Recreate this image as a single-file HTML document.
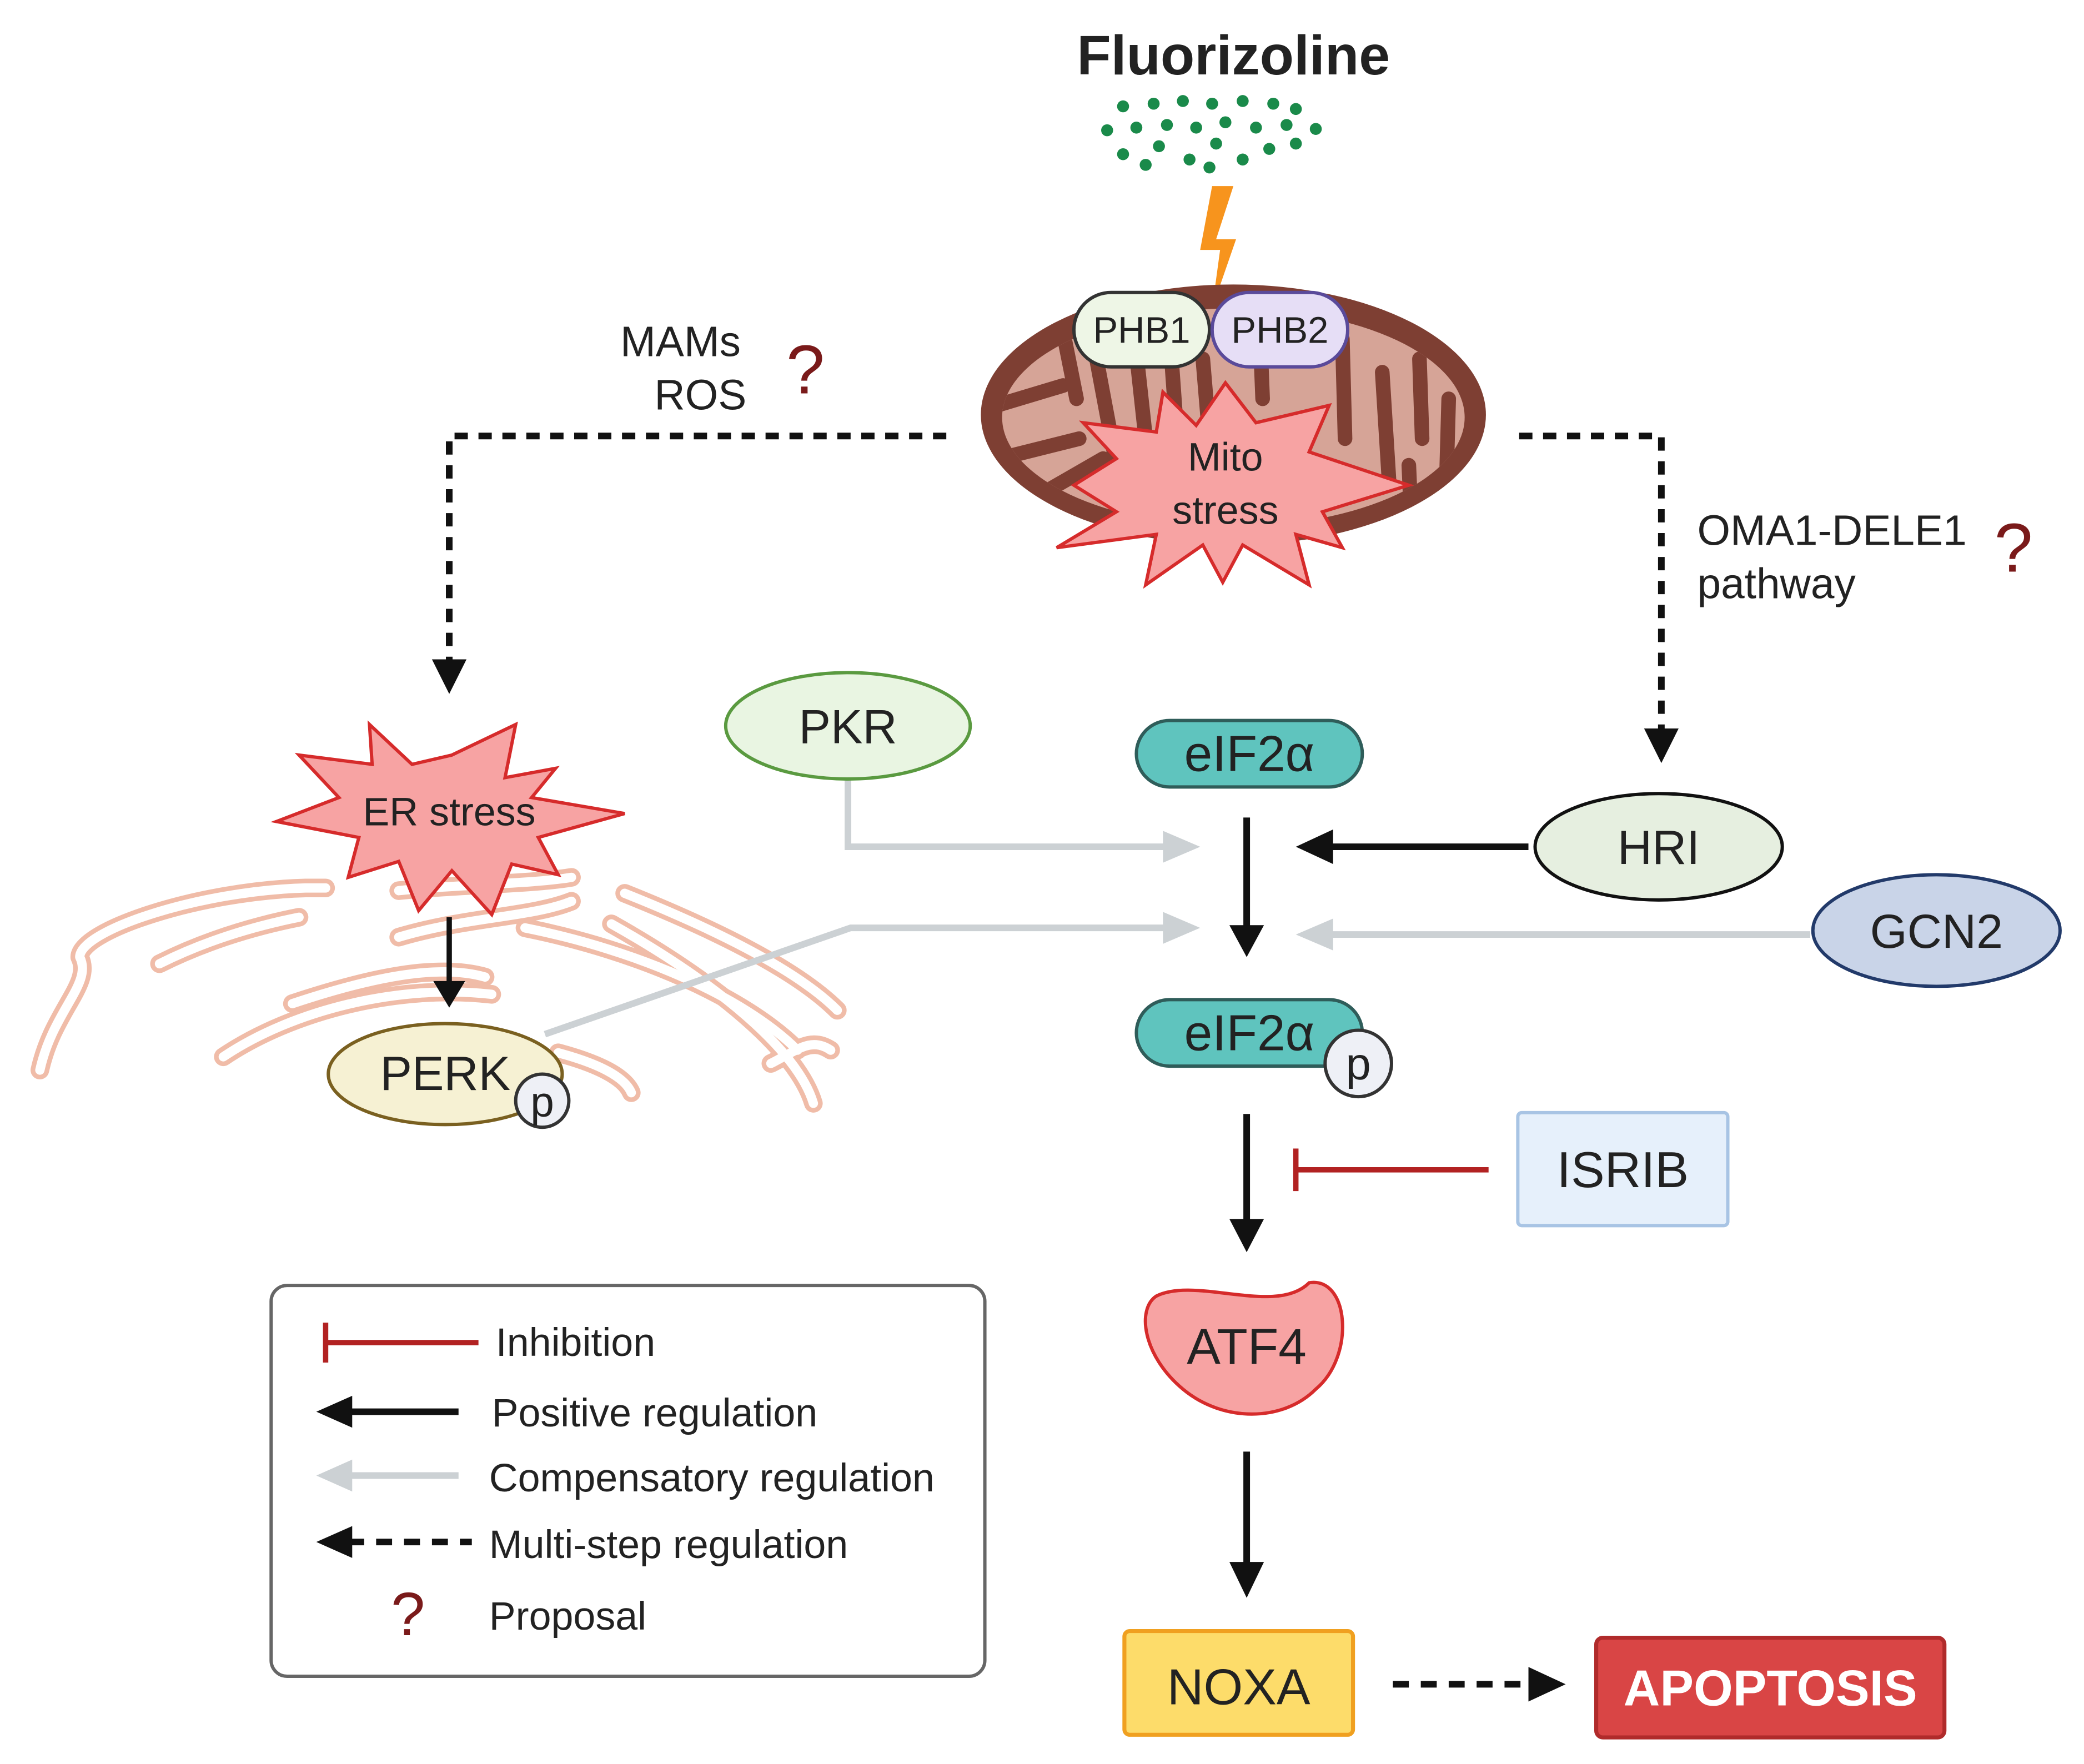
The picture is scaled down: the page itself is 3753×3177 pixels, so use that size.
<!DOCTYPE html>
<html><head><meta charset="utf-8"><style>html,body{margin:0;padding:0;background:#fff}svg{display:block}</style></head>
<body>
<svg width="3753" height="3177" viewBox="0 0 1568 1327" preserveAspectRatio="none" xmlns="http://www.w3.org/2000/svg" font-family="'Liberation Sans', sans-serif">
<defs><clipPath id="mc"><ellipse cx="928" cy="314" rx="174" ry="82"/></clipPath></defs>
<rect width="1568" height="1327" fill="#fff"/>

<text x="928" y="56" font-size="42" font-weight="bold" text-anchor="middle" fill="#222">Fluorizoline</text>
<g fill="#1a8a4a">
<circle cx="845" cy="80" r="4.5"/><circle cx="868" cy="78" r="4.5"/><circle cx="890" cy="76" r="4.5"/><circle cx="912" cy="78" r="4.5"/><circle cx="935" cy="76" r="4.5"/><circle cx="958" cy="78" r="4.5"/><circle cx="975" cy="82" r="4.5"/>
<circle cx="833" cy="98" r="4.5"/><circle cx="855" cy="96" r="4.5"/><circle cx="878" cy="94" r="4.5"/><circle cx="900" cy="96" r="4.5"/><circle cx="922" cy="92" r="4.5"/><circle cx="945" cy="96" r="4.5"/><circle cx="968" cy="94" r="4.5"/><circle cx="990" cy="97" r="4.5"/>
<circle cx="845" cy="116" r="4.5"/><circle cx="872" cy="110" r="4.5"/><circle cx="895" cy="120" r="4.5"/><circle cx="915" cy="108" r="4.5"/><circle cx="935" cy="120" r="4.5"/><circle cx="955" cy="112" r="4.5"/><circle cx="975" cy="108" r="4.5"/>
<circle cx="862" cy="124" r="4.5"/><circle cx="910" cy="126" r="4.5"/>
</g>
<path d="M912,140 L928,140 L915,180 L930,180 L912,232 L918,188 L903,188 Z" fill="#f7941d"/>

<ellipse cx="928" cy="312" rx="190" ry="98" fill="#7e3f33"/>
<ellipse cx="928" cy="314" rx="174" ry="82" fill="#d6a497"/>
<g stroke="#7e3f33" stroke-width="11" fill="none" stroke-linecap="round" clip-path="url(#mc)">
<path d="M750,305 L800,290"/><path d="M752,345 L812,330"/><path d="M790,368 L830,345"/>
<path d="M800,250 L810,300"/><path d="M825,270 L840,350"/><path d="M856,275 L862,330"/><path d="M880,250 L885,320"/>
<path d="M905,270 L910,330"/><path d="M948,250 L950,300"/>
<path d="M1010,255 L1012,330"/><path d="M1040,280 L1045,360"/><path d="M1068,270 L1070,330"/><path d="M1090,300 L1088,370"/><path d="M1060,350 L1062,395"/>
</g>
<rect x="808" y="220" width="102" height="56" rx="28" fill="#eef6e6" stroke="#333" stroke-width="2.5"/>
<text x="859" y="258" font-size="28" text-anchor="middle" fill="#222">PHB1</text>
<rect x="912" y="220" width="102" height="56" rx="28" fill="#e6def6" stroke="#5a4a9a" stroke-width="2.5"/>
<text x="963" y="258" font-size="28" text-anchor="middle" fill="#222">PHB2</text>
<path d="M922,288 L945,318 L1000,305 L985,340 L1060,365 L995,385 L1010,412 L975,402 L985,440 L935,410 L920,438 L905,410 L862,440 L870,402 L795,412 L840,385 L808,365 L840,345 L815,318 L870,325 L875,295 L900,320 Z" fill="#f7a3a3" stroke="#d62b2b" stroke-width="2.5"/>
<text x="922" y="354" font-size="30" text-anchor="middle" fill="#222">Mito</text>
<text x="922" y="394" font-size="30" text-anchor="middle" fill="#222">stress</text>

<text x="512" y="268" font-size="32" text-anchor="middle" fill="#222">MAMs</text>
<text x="527" y="308" font-size="32" text-anchor="middle" fill="#222">ROS</text>
<text x="606" y="296" font-size="52" text-anchor="middle" fill="#7a1a1a">?</text>
<path d="M712,328 L338,328 L338,500" fill="none" stroke="#111" stroke-width="5" stroke-dasharray="10,8"/>
<path d="M325,496 L351,496 L338,522 Z" fill="#111"/>

<path d="M1143,328 L1250,328 L1250,552" fill="none" stroke="#111" stroke-width="5" stroke-dasharray="10,8"/>
<path d="M1237,548 L1263,548 L1250,574 Z" fill="#111"/>
<text x="1277" y="410" font-size="32" fill="#222">OMA1-DELE1</text>
<text x="1277" y="450" font-size="32" fill="#222">pathway</text>
<text x="1515" y="430" font-size="52" text-anchor="middle" fill="#7a1a1a">?</text>

<g fill="none" stroke-linecap="round" stroke-linejoin="round">
<g stroke="#f0bca8" stroke-width="14">
<path d="M30,805 C40,760 70,740 60,720 C60,700 150,670 230,668 L245,668"/>
<path d="M120,725 C160,705 200,695 225,690"/>
<path d="M168,795 C220,760 300,740 370,748"/>
<path d="M220,755 C280,735 330,725 365,735"/>
<path d="M300,705 C350,690 400,690 430,678"/>
<path d="M300,670 C350,665 400,665 430,660"/>
<path d="M470,672 C540,700 600,730 630,760"/>
<path d="M460,695 C540,740 600,790 612,830"/>
<path d="M395,698 C480,715 560,750 600,790"/>
<path d="M420,792 C450,800 470,810 475,822"/>
<path d="M580,800 C600,790 610,780 625,790"/>
</g>
<g stroke="#fff" stroke-width="7">
<path d="M30,805 C40,760 70,740 60,720 C60,700 150,670 230,668 L245,668"/>
<path d="M120,725 C160,705 200,695 225,690"/>
<path d="M168,795 C220,760 300,740 370,748"/>
<path d="M220,755 C280,735 330,725 365,735"/>
<path d="M300,705 C350,690 400,690 430,678"/>
<path d="M300,670 C350,665 400,665 430,660"/>
<path d="M470,672 C540,700 600,730 630,760"/>
<path d="M460,695 C540,740 600,790 612,830"/>
<path d="M395,698 C480,715 560,750 600,790"/>
<path d="M420,792 C450,800 470,810 475,822"/>
<path d="M580,800 C600,790 610,780 625,790"/>
</g>
</g>
<path d="M340,568 L388,545 L380,585 L418,578 L400,600 L470,612 L405,630 L420,658 L385,650 L370,688 L340,655 L315,685 L300,648 L262,660 L270,630 L208,618 L255,600 L225,568 L280,575 L278,545 L310,575 Z" fill="#f7a3a3" stroke="#d62b2b" stroke-width="2.5"/>
<text x="338" y="621" font-size="30" text-anchor="middle" fill="#222">ER stress</text>
<line x1="338" y1="690" x2="338" y2="742" stroke="#111" stroke-width="4"/>
<path d="M326,738 L350,738 L338,758 Z" fill="#111"/>

<path d="M638,586 L638,637 L878,637" fill="none" stroke="#ccd1d4" stroke-width="5"/>
<path d="M875,625 L903,637 L875,649 Z" fill="#ccd1d4"/>
<path d="M410,778 L640,698 L878,698" fill="none" stroke="#ccd1d4" stroke-width="5"/>
<path d="M875,686 L903,698 L875,710 Z" fill="#ccd1d4"/>
<line x1="1362" y1="703" x2="1000" y2="703" stroke="#ccd1d4" stroke-width="5"/>
<path d="M1003,691 L975,703 L1003,715 Z" fill="#ccd1d4"/>

<ellipse cx="335" cy="808" rx="88" ry="38" fill="#f6f1d3" stroke="#7a6020" stroke-width="2.5"/>
<text x="335" y="820" font-size="36" text-anchor="middle" fill="#222">PERK</text>
<circle cx="408" cy="828" r="20" fill="#eef0f6" stroke="#333" stroke-width="2.5"/>
<text x="408" y="840" font-size="32" text-anchor="middle" fill="#222">p</text>

<ellipse cx="638" cy="546" rx="92" ry="40" fill="#e9f5e2" stroke="#5a9a40" stroke-width="2.5"/>
<text x="638" y="559" font-size="36" text-anchor="middle" fill="#222">PKR</text>

<rect x="855" y="542" width="170" height="50" rx="25" fill="#5fc4be" stroke="#2f5d5a" stroke-width="2.5"/>
<text x="940" y="580" font-size="38" text-anchor="middle" fill="#222">eIF2α</text>
<line x1="938" y1="615" x2="938" y2="700" stroke="#111" stroke-width="5"/>
<path d="M925,696 L951,696 L938,720 Z" fill="#111"/>

<ellipse cx="1248" cy="637" rx="93" ry="40" fill="#e6efe0" stroke="#111" stroke-width="2.5"/>
<text x="1248" y="650" font-size="36" text-anchor="middle" fill="#222">HRI</text>
<line x1="1150" y1="637" x2="1000" y2="637" stroke="#111" stroke-width="5"/>
<path d="M1003,624 L975,637 L1003,650 Z" fill="#111"/>

<ellipse cx="1457" cy="700" rx="93" ry="42" fill="#c9d4e8" stroke="#223a6a" stroke-width="2.5"/>
<text x="1457" y="713" font-size="36" text-anchor="middle" fill="#222">GCN2</text>

<rect x="855" y="752" width="170" height="50" rx="25" fill="#5fc4be" stroke="#2f5d5a" stroke-width="2.5"/>
<text x="940" y="790" font-size="38" text-anchor="middle" fill="#222">eIF2α</text>
<circle cx="1022" cy="800" r="25" fill="#eef0f6" stroke="#333" stroke-width="2.5"/>
<text x="1022" y="812" font-size="34" text-anchor="middle" fill="#222">p</text>
<line x1="938" y1="838" x2="938" y2="920" stroke="#111" stroke-width="5"/>
<path d="M925,917 L951,917 L938,942 Z" fill="#111"/>

<line x1="1120" y1="880" x2="975" y2="880" stroke="#b22222" stroke-width="4"/>
<line x1="975" y1="864" x2="975" y2="896" stroke="#b22222" stroke-width="4"/>
<rect x="1142" y="837" width="158" height="85" rx="3" fill="#e6f0fb" stroke="#a8c4e4" stroke-width="2.5"/>
<text x="1221" y="893" font-size="38" text-anchor="middle" fill="#222">ISRIB</text>

<path d="M870,975 C900,960 960,990 985,965 C1015,960 1020,1020 990,1045 C965,1070 920,1070 890,1045 C860,1020 855,985 870,975 Z" fill="#f7a3a3" stroke="#d62b2b" stroke-width="2.5"/>
<text x="938" y="1026" font-size="38" text-anchor="middle" fill="#222">ATF4</text>
<line x1="938" y1="1092" x2="938" y2="1178" stroke="#111" stroke-width="5"/>
<path d="M925,1175 L951,1175 L938,1202 Z" fill="#111"/>

<rect x="846" y="1227" width="172" height="78" rx="4" fill="#fddc6a" stroke="#f0a020" stroke-width="3"/>
<text x="932" y="1282" font-size="38" text-anchor="middle" fill="#222">NOXA</text>
<line x1="1048" y1="1267" x2="1152" y2="1267" stroke="#111" stroke-width="5" stroke-dasharray="12,9"/>
<path d="M1150,1254 L1178,1267 L1150,1280 Z" fill="#111"/>
<rect x="1201" y="1232" width="262" height="75" rx="5" fill="#d94545" stroke="#b02b2b" stroke-width="3"/>
<text x="1332" y="1283" font-size="38" font-weight="bold" text-anchor="middle" fill="#fff">APOPTOSIS</text>

<rect x="204" y="967" width="537" height="294" rx="12" fill="#fff" stroke="#666" stroke-width="2.5"/>
<line x1="245" y1="1010" x2="360" y2="1010" stroke="#b22222" stroke-width="4"/>
<line x1="245" y1="995" x2="245" y2="1025" stroke="#b22222" stroke-width="4"/>
<text x="373" y="1020" font-size="30" fill="#222">Inhibition</text>
<line x1="262" y1="1062" x2="345" y2="1062" stroke="#111" stroke-width="5"/>
<path d="M265,1050 L238,1062 L265,1074 Z" fill="#111"/>
<text x="370" y="1073" font-size="30" fill="#222">Positive regulation</text>
<line x1="262" y1="1110" x2="345" y2="1110" stroke="#ccd1d4" stroke-width="5"/>
<path d="M265,1098 L238,1110 L265,1122 Z" fill="#ccd1d4"/>
<text x="368" y="1122" font-size="30" fill="#222">Compensatory regulation</text>
<line x1="262" y1="1160" x2="355" y2="1160" stroke="#111" stroke-width="5" stroke-dasharray="12,9"/>
<path d="M265,1148 L238,1160 L265,1172 Z" fill="#111"/>
<text x="368" y="1172" font-size="30" fill="#222">Multi-step regulation</text>
<text x="307" y="1230" font-size="46" text-anchor="middle" fill="#7a1a1a">?</text>
<text x="368" y="1226" font-size="30" fill="#222">Proposal</text>
</svg>
</body></html>
